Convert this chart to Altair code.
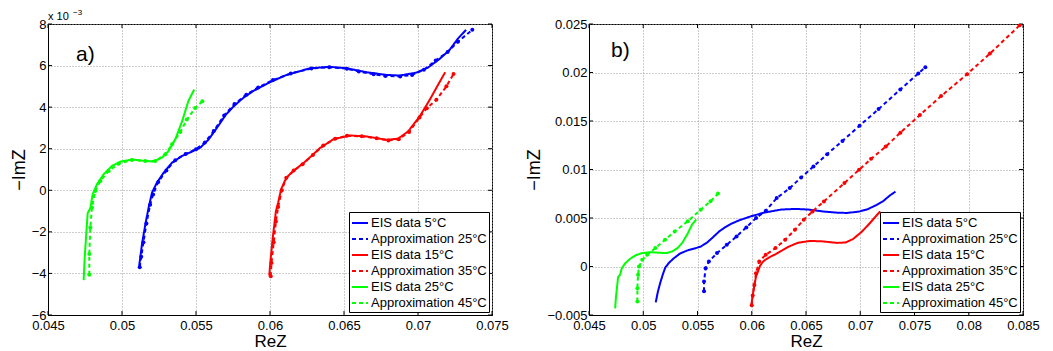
import altair as alt
import pandas as pd

# ---------------- data (y values in units of 1e-3) ----------------
SERIES = ["EIS data 5°C", "Approximation 25°C", "EIS data 15°C",
          "Approximation 35°C", "EIS data 25°C", "Approximation 45°C"]
COLORS = ["#0000ff", "#0000ff", "#ff0000", "#ff0000", "#00ff00", "#00ff00"]
DASHES = [[1, 0], [4, 3], [1, 0], [4, 3], [1, 0], [4, 3]]

# measured EIS data (same in both panels)
eis5_x = [0.05115, 0.05135, 0.05158, 0.05180, 0.05203, 0.05236, 0.05282, 0.05338, 0.05405,
          0.05473, 0.05529, 0.05586, 0.05642, 0.05700, 0.05753, 0.05820, 0.05888, 0.06000,
          0.06112, 0.06270, 0.06404, 0.06517, 0.06652, 0.06787, 0.06876, 0.06989, 0.07067,
          0.07146, 0.07213, 0.07270, 0.07325]
eis5_y = [-3.70, -2.59, -1.63, -0.83, -0.11, 0.37, 0.85, 1.33, 1.65,
          1.86, 2.05, 2.45, 3.01, 3.62, 4.03, 4.45, 4.78, 5.20,
          5.55, 5.87, 5.94, 5.87, 5.68, 5.55, 5.52, 5.66, 5.90,
          6.32, 6.75, 7.30, 7.72]

eis15_x = [0.05995, 0.06005, 0.06020, 0.06040, 0.06055, 0.06075, 0.06100, 0.06124, 0.06170,
           0.06225, 0.06280, 0.06337, 0.06427, 0.06539, 0.06652, 0.06787, 0.06865, 0.06933,
           0.07011, 0.07079, 0.07135, 0.07184]
eis15_y = [-4.10, -3.25, -2.20, -1.00, -0.60, 0.05, 0.45, 0.70, 1.00,
           1.30, 1.65, 2.03, 2.45, 2.64, 2.59, 2.43, 2.48, 2.83,
           3.55, 4.35, 5.07, 5.68]

eis25_x = [0.04741, 0.04748, 0.04757, 0.04768, 0.04786, 0.04802, 0.04831, 0.04876, 0.04932,
           0.04989, 0.05068, 0.05158, 0.05214, 0.05270, 0.05315, 0.05360, 0.05405, 0.05449,
           0.05488]
eis25_y = [-4.32, -3.23, -2.27, -1.10, -0.86, -0.19, 0.29, 0.77, 1.17,
           1.38, 1.48, 1.41, 1.38, 1.57, 1.89, 2.45, 3.30, 4.30,
           4.85]

# panel a) approximations
a25_x = [0.05120, 0.05130, 0.05145, 0.05165, 0.05190, 0.05210, 0.05245, 0.05300, 0.05360,
         0.05430, 0.05500, 0.05560, 0.05620, 0.05690, 0.05760, 0.05840, 0.05920, 0.06020,
         0.06140, 0.06280, 0.06400, 0.06520, 0.06600, 0.06700, 0.06780, 0.06880, 0.06960,
         0.07040, 0.07120, 0.07200, 0.07270, 0.07367]
a25_y = [-3.70, -3.20, -2.50, -1.60, -0.70, -0.20, 0.40, 0.95, 1.45,
         1.75, 1.98, 2.30, 2.85, 3.60, 4.15, 4.60, 4.95, 5.30,
         5.62, 5.86, 5.92, 5.85, 5.72, 5.58, 5.50, 5.48, 5.55,
         5.80, 6.25, 6.65, 7.15, 7.72]

a35_x = [0.06005, 0.06010, 0.06025, 0.06040, 0.06055, 0.06080, 0.06110, 0.06160, 0.06220,
         0.06290, 0.06360, 0.06440, 0.06520, 0.06620, 0.06720, 0.06800, 0.06870, 0.06940,
         0.07010, 0.07060, 0.07124, 0.07192, 0.07240]
a35_y = [-4.13, -3.50, -2.50, -1.50, -0.80, 0.00, 0.60, 0.95, 1.25,
         1.70, 2.15, 2.48, 2.62, 2.60, 2.50, 2.40, 2.46, 2.80,
         3.50, 3.95, 4.35, 5.00, 5.59]

a45_x = [0.04779, 0.04779, 0.04786, 0.04797, 0.04820, 0.04854, 0.04910, 0.04977, 0.05068,
         0.05158, 0.05225, 0.05293, 0.05338, 0.05394, 0.05438, 0.05494, 0.05543]
a45_y = [-4.06, -3.07, -1.79, -0.83, -0.03, 0.45, 0.93, 1.28, 1.46,
         1.41, 1.41, 1.73, 2.21, 2.80, 3.40, 3.96, 4.28]

# panel b) approximations
b25_x = [0.05560, 0.05560, 0.05575, 0.05605, 0.05680, 0.05770, 0.05860, 0.05950, 0.06040,
         0.06130, 0.06230, 0.06350, 0.06455, 0.06569, 0.06695, 0.06836, 0.06994, 0.07169,
         0.07369, 0.07535, 0.07600]
b25_y = [-2.55, -1.55, -0.17, 0.52, 1.38, 2.24, 3.10, 4.03, 5.00,
         5.76, 7.05, 8.08, 9.18, 10.31, 11.58, 12.95, 14.52, 16.23,
         18.25, 19.90, 20.55]

b35_x = [0.06000, 0.06009, 0.06024, 0.06039, 0.06069, 0.06129, 0.06219, 0.06308, 0.06398,
         0.06479, 0.06560, 0.06665, 0.06854, 0.06989, 0.07100, 0.07235, 0.07370, 0.07550,
         0.07745, 0.07985, 0.08195, 0.08469]
b35_y = [-4.00, -3.00, -1.90, -0.69, 0.52, 1.21, 1.90, 2.76, 3.79,
         4.83, 5.68, 6.71, 8.60, 9.97, 11.10, 12.36, 13.80, 15.62,
         17.57, 19.83, 21.95, 24.86]

b45_x = [0.04946, 0.04946, 0.04952, 0.04961, 0.04991, 0.05036, 0.05111, 0.05201, 0.05290,
         0.05410, 0.05530, 0.05620, 0.05689]
b45_y = [-3.62, -2.24, -0.86, 0.00, 0.69, 1.21, 1.90, 2.76, 3.62,
         4.66, 5.86, 6.72, 7.52]

A_XTICKS = [0.045, 0.05, 0.055, 0.06, 0.065, 0.07, 0.075]
A_YTICKS = [-6, -4, -2, 0, 2, 4, 6, 8]
B_XTICKS = [0.045, 0.05, 0.055, 0.06, 0.065, 0.07, 0.075, 0.08, 0.085]
B_YTICKS = [-0.005, 0, 0.005, 0.01, 0.015, 0.02, 0.025]

FONT = "Liberation Sans"
TICK_LEN = 4


def frame(pairs, scale):
    rows = []
    for name, (xs, ys) in zip(SERIES, pairs):
        for i, (xv, yv) in enumerate(zip(xs, ys)):
            rows.append({"series": name, "i": i, "x": xv, "y": yv * scale})
    return pd.DataFrame(rows)


df_a = frame([(eis5_x, eis5_y), (a25_x, a25_y), (eis15_x, eis15_y),
              (a35_x, a35_y), (eis25_x, eis25_y), (a45_x, a45_y)], 1.0)
df_b = frame([(eis5_x, eis5_y), (b25_x, b25_y), (eis15_x, eis15_y),
              (b35_x, b35_y), (eis25_x, eis25_y), (b45_x, b45_y)], 0.001)

LABEL_EXPR = "format(datum.value, '~g')"


def panel(df, xdom, ydom, xticks, yticks, tag, tag_xy, w, h, exponent=False):
    x = alt.X("x:Q", scale=alt.Scale(domain=xdom, nice=False, zero=False),
              axis=alt.Axis(values=xticks, title="ReZ", labelExpr=LABEL_EXPR,
                            labelPadding=4, titlePadding=1, titleFontSize=17))
    y = alt.Y("y:Q", scale=alt.Scale(domain=ydom, nice=False, zero=False),
              axis=alt.Axis(values=yticks, title="\u2212ImZ", labelExpr=LABEL_EXPR,
                            labelPadding=2, titlePadding=3))
    leg = alt.Legend(title=None, orient="bottom-right", offset=3, fillColor="white",
                     strokeColor="black", padding=2, rowPadding=0, symbolType="stroke",
                     symbolSize=256, symbolStrokeWidth=2, labelFont=FONT, labelFontSize=13,
                     labelOffset=2, labelLimit=300, labelColor="black")
    lines = alt.Chart(df).mark_line(strokeWidth=2, clip=True).encode(
        x=x, y=y,
        color=alt.Color("series:N", scale=alt.Scale(domain=SERIES, range=COLORS), legend=leg),
        strokeDash=alt.StrokeDash("series:N", scale=alt.Scale(domain=SERIES, range=DASHES),
                                  legend=leg),
        order="i:Q",
    )
    layers = []
    # inward tick marks on all four sides (MATLAB box style)
    xt = alt.Chart(pd.DataFrame({"x": xticks}))
    yt = alt.Chart(pd.DataFrame({"y": yticks}))
    layers.append(xt.mark_rule(color="black", strokeWidth=1).encode(
        x="x:Q", y=alt.value(h), y2=alt.value(h - TICK_LEN)))
    layers.append(xt.mark_rule(color="black", strokeWidth=1).encode(
        x="x:Q", y=alt.value(0), y2=alt.value(TICK_LEN)))
    layers.append(yt.mark_rule(color="black", strokeWidth=1).encode(
        y="y:Q", x=alt.value(0), x2=alt.value(TICK_LEN)))
    layers.append(yt.mark_rule(color="black", strokeWidth=1).encode(
        y="y:Q", x=alt.value(w), x2=alt.value(w - TICK_LEN)))
    layers.append(lines)
    for name, col in zip(SERIES, COLORS):
        if name.startswith("Approx"):
            layers.append(
                alt.Chart(df).transform_filter(alt.datum.series == name)
                .mark_circle(size=16, color=col, opacity=1, clip=True)
                .encode(x="x:Q", y="y:Q")
            )
    layers.append(
        alt.Chart(pd.DataFrame({"t": [tag]})).mark_text(
            align="left", baseline="alphabetic", fontSize=21, font=FONT, color="black")
        .encode(x=alt.value(tag_xy[0]), y=alt.value(tag_xy[1]), text="t:N")
    )
    if exponent:
        layers.append(
            alt.Chart(pd.DataFrame({"t": ["x 10"]})).mark_text(
                align="left", baseline="alphabetic", fontSize=11, font=FONT, color="black")
            .encode(x=alt.value(0), y=alt.value(-4), text="t:N")
        )
        layers.append(
            alt.Chart(pd.DataFrame({"t": ["\u22123"]})).mark_text(
                align="left", baseline="alphabetic", fontSize=8, font=FONT, color="black")
            .encode(x=alt.value(25), y=alt.value(-9), text="t:N")
        )
    return alt.layer(*layers).properties(width=w, height=h)


left = panel(df_a, [0.045, 0.075], [-6, 8], A_XTICKS, A_YTICKS, "a)", (28, 37), 444, 291,
             exponent=True)
right = panel(df_b, [0.045, 0.085], [-0.005, 0.025], B_XTICKS, B_YTICKS, "b)", (22, 33),
              434, 291)

chart = (
    alt.hconcat(left, right, spacing=97, bounds="flush")
    .resolve_scale(x="independent", y="independent", color="independent",
                   strokeDash="independent")
    .resolve_legend(color="independent", strokeDash="independent")
    .properties(padding={"left": 1, "top": 0, "right": 0, "bottom": 0})
    .configure_view(stroke="black", strokeWidth=1)
    .configure_axis(
        labelFont=FONT, labelFontSize=13, labelColor="black",
        titleFont=FONT, titleFontSize=18, titleFontWeight="normal", titleColor="black",
        grid=True, gridDash=[1, 2], gridColor="#9a9a9a", gridWidth=1,
        ticks=False, domainColor="black", domainWidth=1,
        labelFlush=False, labelOverlap=False,
    )
)

chart.save("out.html", embed_options={"renderer": "svg", "actions": False})
